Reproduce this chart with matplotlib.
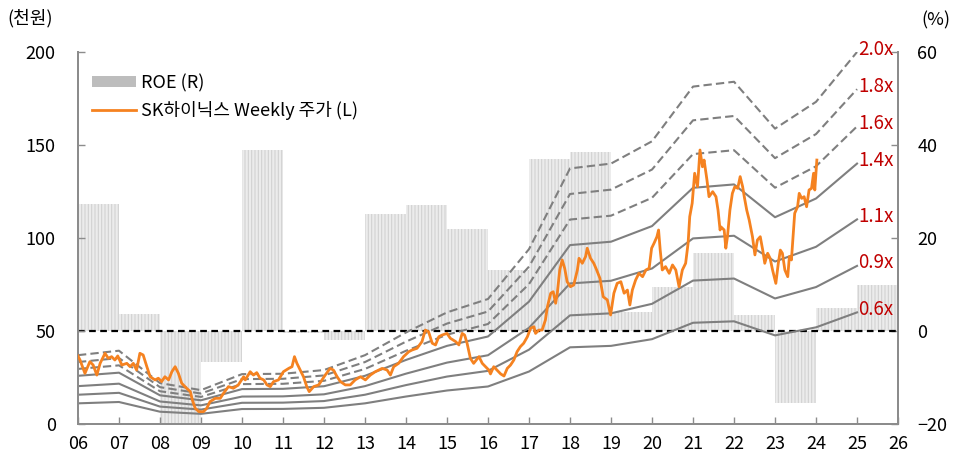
#!/usr/bin/env python3
"""SK하이닉스 PBR band chart with ROE bars (weekly price, 2006-2024)."""

import matplotlib

matplotlib.use("Agg")
import matplotlib.pyplot as plt
from matplotlib.lines import Line2D
from matplotlib.patches import Patch

plt.rcParams["font.family"] = ["Noto Sans CJK KR", "DejaVu Sans"]
plt.rcParams["hatch.linewidth"] = 0.8

# ---------------------------------------------------------------------------
# Data
# ---------------------------------------------------------------------------

years = list(range(2006, 2026))
year_ticks = list(range(2006, 2027))
year_labels = ["06", "07", "08", "09", "10", "11", "12", "13", "14", "15", "16",
               "17", "18", "19", "20", "21", "22", "23", "24", "25", "26"]

# ROE (%), one bar per year
roe = [27.3, 3.7, -21.0, -6.7, 38.9, -0.5, -1.9, 25.2, 27.1, 21.9,
       13.1, 37.0, 38.5, 4.1, 9.5, 16.8, 3.4, -15.5, 4.9, 9.9]

# BPS (천원) at each year start, used for the PBR band
bps = [18.5, 19.7, 11.0, 9.1, 13.4, 13.5, 14.5, 18.5, 24.6, 30.0,
       33.6, 47.0, 68.7, 70.0, 76.0, 90.7, 92.0, 79.4, 86.6, 100.0]

band_mult = [0.6, 0.85, 1.1, 1.4, 1.6, 1.8, 2.0]
band_labels = ["0.6x", "0.9x", "1.1x", "1.4x", "1.6x", "1.8x", "2.0x"]

# weekly price (천원)
price_t = [
    2006.00, 2006.05, 2006.17, 2006.29, 2006.37, 2006.46, 2006.54, 2006.66, 2006.74, 2006.82,
    2006.90, 2006.97, 2007.07, 2007.19, 2007.27, 2007.35, 2007.43, 2007.51, 2007.59, 2007.68,
    2007.76, 2007.88, 2007.96, 2008.04, 2008.12, 2008.21, 2008.29, 2008.37, 2008.45, 2008.53,
    2008.65, 2008.74, 2008.79, 2008.86, 2008.95, 2009.06, 2009.14, 2009.22, 2009.35, 2009.47,
    2009.55, 2009.67, 2009.79, 2009.91, 2010.04, 2010.08, 2010.20, 2010.28, 2010.36, 2010.44,
    2010.53, 2010.61, 2010.69, 2010.77, 2010.89, 2011.01, 2011.14, 2011.22, 2011.28, 2011.34,
    2011.42, 2011.50, 2011.58, 2011.64, 2011.75, 2011.87, 2011.95, 2012.03, 2012.15, 2012.23,
    2012.32, 2012.40, 2012.52, 2012.64, 2012.76, 2012.89, 2013.01, 2013.13, 2013.25, 2013.42,
    2013.54, 2013.62, 2013.70, 2013.82, 2013.94, 2014.07, 2014.15, 2014.27, 2014.39, 2014.47,
    2014.55, 2014.64, 2014.72, 2014.80, 2014.88, 2015.00, 2015.08, 2015.21, 2015.29, 2015.37,
    2015.43, 2015.49, 2015.57, 2015.65, 2015.78, 2015.86, 2015.94, 2016.02, 2016.06, 2016.14,
    2016.22, 2016.31, 2016.39, 2016.47, 2016.55, 2016.63, 2016.71, 2016.79, 2016.87, 2016.96,
    2017.04, 2017.12, 2017.16, 2017.24, 2017.32, 2017.40, 2017.45, 2017.53, 2017.59, 2017.65,
    2017.69, 2017.75, 2017.81, 2017.87, 2017.93, 2018.01, 2018.09, 2018.18, 2018.22, 2018.30,
    2018.38, 2018.42, 2018.50, 2018.58, 2018.65, 2018.73, 2018.81, 2018.91, 2018.99, 2019.07,
    2019.15, 2019.24, 2019.32, 2019.40, 2019.46, 2019.52, 2019.60, 2019.68, 2019.77, 2019.85,
    2019.93, 2019.99, 2020.05, 2020.12, 2020.16, 2020.20, 2020.25, 2020.33, 2020.42, 2020.50,
    2020.58, 2020.66, 2020.74, 2020.82, 2020.88, 2020.92, 2020.98, 2021.04, 2021.11, 2021.17,
    2021.23, 2021.27, 2021.34, 2021.39, 2021.48, 2021.56, 2021.61, 2021.66, 2021.68, 2021.76,
    2021.80, 2021.84, 2021.90, 2021.96, 2022.02, 2022.09, 2022.15, 2022.21, 2022.25, 2022.31,
    2022.37, 2022.45, 2022.51, 2022.57, 2022.64, 2022.70, 2022.75, 2022.82, 2022.88, 2022.94,
    2023.02, 2023.08, 2023.13, 2023.18, 2023.24, 2023.31, 2023.35, 2023.40, 2023.45, 2023.48,
    2023.55, 2023.59, 2023.65, 2023.71, 2023.77, 2023.83, 2023.89, 2023.94, 2023.97, 2024.02,
]
price_v = [
    36.6, 34.4, 27.2, 33.5, 31.7, 26.3, 32.6, 38.0, 35.3, 36.2,
    34.4, 36.6, 31.7, 32.6, 30.8, 32.6, 29.0, 38.0, 37.1, 30.8,
    25.4, 23.7, 24.6, 22.8, 25.4, 23.7, 28.1, 30.8, 27.2, 21.9,
    19.2, 17.4, 12.9, 8.4, 6.6, 6.6, 8.4, 12.0, 13.8, 13.8,
    16.5, 20.1, 19.2, 21.0, 25.4, 23.7, 28.1, 26.3, 27.6, 24.6,
    23.7, 21.0, 20.1, 22.8, 23.7, 28.1, 29.9, 30.8, 36.2, 32.6,
    29.0, 25.4, 20.1, 17.4, 20.1, 21.0, 23.7, 26.3, 29.9, 29.0,
    25.4, 22.8, 21.0, 21.0, 23.7, 25.4, 23.7, 26.3, 28.1, 29.9,
    29.0, 26.3, 30.8, 32.6, 36.2, 38.9, 39.8, 40.7, 44.3, 50.5,
    49.6, 43.4, 42.5, 46.9, 47.8, 48.7, 46.1, 44.3, 42.5, 48.7,
    47.8, 43.4, 35.3, 32.6, 36.2, 32.6, 30.8, 29.0, 26.9, 30.8,
    29.0, 26.9, 25.8, 29.9, 31.7, 34.4, 38.9, 41.6, 43.4, 46.9,
    51.5, 52.3, 48.7, 50.5, 50.5, 55.9, 63.1, 70.3, 71.1, 64.9,
    70.3, 82.8, 88.2, 83.7, 76.5, 73.8, 74.7, 82.8, 89.1, 86.4,
    90.0, 94.5, 89.1, 86.4, 82.8, 78.3, 68.4, 66.7, 58.6, 70.3,
    75.6, 76.5, 70.3, 72.0, 64.0, 72.0, 77.4, 81.0, 79.2, 82.8,
    83.7, 94.5, 97.2, 100.7, 104.3, 93.5, 82.8, 84.6, 81.0, 85.5,
    82.8, 73.8, 82.8, 86.4, 97.2, 111.5, 118.7, 134.8, 127.6, 147.3,
    138.3, 141.9, 131.2, 122.2, 124.9, 122.2, 115.0, 104.3, 106.0, 104.3,
    94.5, 100.7, 115.0, 124.0, 127.6, 126.7, 133.0, 127.6, 122.2, 115.0,
    109.7, 100.7, 90.9, 98.9, 100.7, 93.5, 86.4, 91.8, 89.1, 82.8,
    75.6, 86.4, 93.5, 91.8, 82.8, 79.2, 90.0, 88.2, 104.3, 113.3,
    116.8, 124.0, 121.3, 122.2, 116.8, 125.8, 126.7, 134.8, 125.8, 141.9,
]

# ---------------------------------------------------------------------------
# Styling
# ---------------------------------------------------------------------------

ORANGE = "#f58220"
BAND_GRAY = "#7f7f7f"
LABEL_RED = "#c00000"
SPINE_GRAY = "#8c8c8c"
BAND_STYLE = ["-", "-", "-", "-", (0, (4, 2)), (0, (4, 2)), (0, (4, 2))]


def style_axes(ax, ax2):
    for a in (ax, ax2):
        for side in ("left", "right", "bottom"):
            a.spines[side].set_color(SPINE_GRAY)
            a.spines[side].set_linewidth(1.4)
        a.spines["top"].set_visible(False)

    ax.set_xlim(2006, 2026)
    ax.set_ylim(0, 200)
    ax2.set_ylim(-20, 60)

    ax.set_xticks(year_ticks)
    ax.set_xticklabels(year_labels, fontsize=13,
                       family=["Liberation Sans Narrow", "Noto Sans CJK KR"])
    ax.set_yticks([0, 50, 100, 150, 200])
    ax2.set_yticks([-20, 0, 20, 40, 60])

    ax.tick_params(axis="x", direction="in", length=5, width=1, color=SPINE_GRAY, pad=8)
    ax.tick_params(axis="y", direction="in", length=5, width=1, color=SPINE_GRAY,
                   pad=16, labelsize=13)
    ax2.tick_params(axis="y", direction="in", length=5, width=1, color=SPINE_GRAY,
                    pad=14, labelsize=13)


def main():
    fig = plt.figure(figsize=(9.65, 4.61), dpi=100)
    ax = fig.add_axes([0.0808, 0.0803, 0.8498, 0.8069])
    ax2 = ax.twinx()

    # ROE bars behind everything (right axis)
    ax2.bar(years, roe, width=1.0, align="edge", color="#ececec",
            edgecolor="#d2d2d2", hatch="|||||", linewidth=0)

    # price axis drawn above the bar axis
    ax.set_zorder(ax2.get_zorder() + 1)
    ax.patch.set_visible(False)

    # PBR band
    for mult, label, ls in zip(band_mult, band_labels, BAND_STYLE):
        band = [b * mult for b in bps]
        ax.plot(years, band, color=BAND_GRAY, linewidth=1.5, linestyle=ls, zorder=2)
        ax.annotate(label, xy=(years[-1], band[-1]), xytext=(1, 3),
                    textcoords="offset pixels", ha="left", va="center",
                    fontsize=13.5, color=LABEL_RED, annotation_clip=False)

    # zero ROE line (= 50 on the price axis)
    ax2.axhline(0, color="black", linestyle=(0, (3, 2)), linewidth=1.6, zorder=3)

    ax.plot(price_t, price_v, color=ORANGE, linewidth=2.0, zorder=4)

    style_axes(ax, ax2)

    fig.text(0.008, 0.96, "(천원)", fontsize=13, ha="left", va="center")
    fig.text(0.955, 0.955, "(%)", fontsize=13, ha="left", va="center")

    handles = [
        Patch(facecolor="#bdbdbd", edgecolor="none"),
        Line2D([0], [0], color=ORANGE, linewidth=2),
    ]
    ax.legend(handles, ["ROE (R)", "SK하이닉스 Weekly 주가 (L)"], loc="upper left",
              bbox_to_anchor=(0.0, 0.98), frameon=False, fontsize=13,
              handlelength=2.4, handleheight=0.55, handletextpad=0.3,
              labelspacing=0.5, borderaxespad=0.4)

    fig.savefig("out.png", dpi=100)
    plt.close(fig)


if __name__ == "__main__":
    main()
